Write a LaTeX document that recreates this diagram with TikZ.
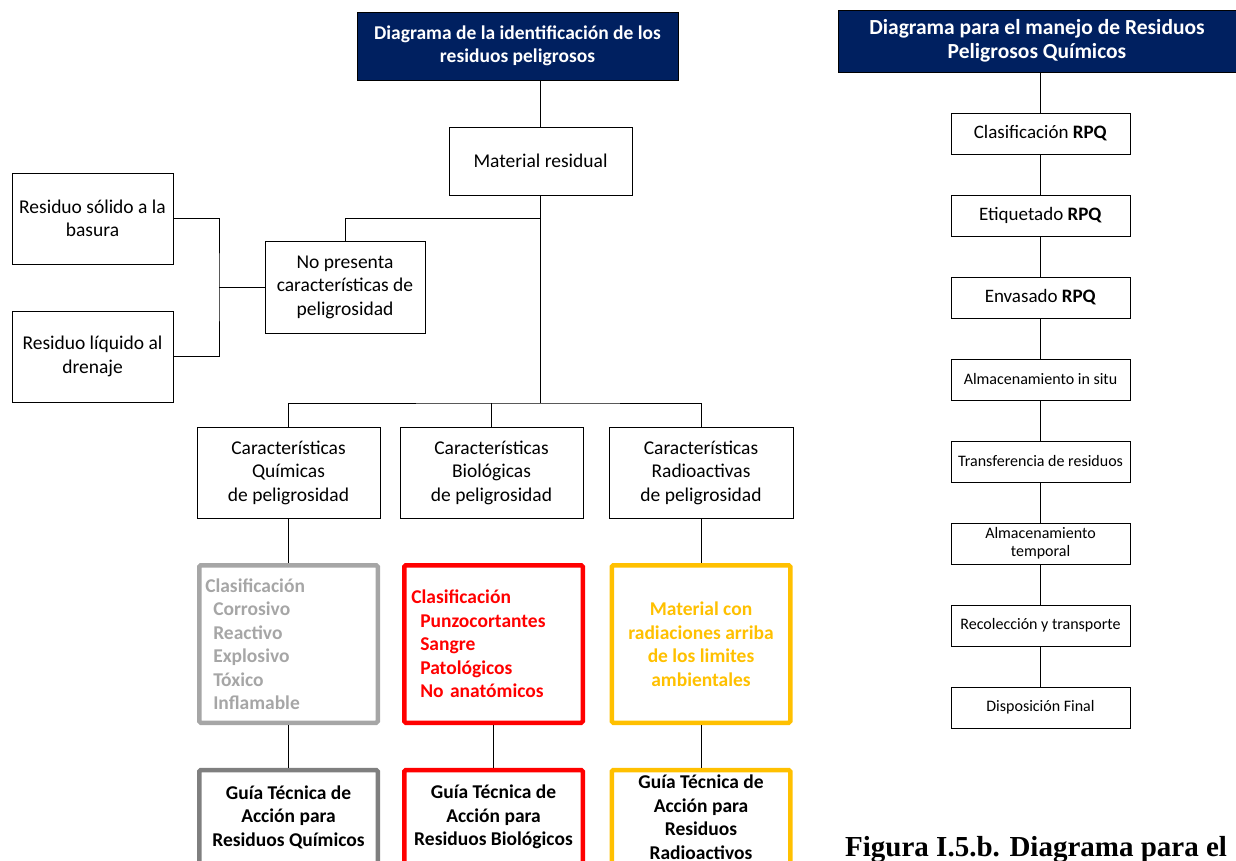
\documentclass[tikz,border=0pt]{standalone}
\usepackage{fontspec}
\setmainfont{Carlito}
\newfontfamily\piefont{Liberation Serif}
\usetikzlibrary{positioning}
\definecolor{azulosc}{HTML}{002060}
\definecolor{grisclaro}{HTML}{A6A6A6}
\definecolor{grisosc}{HTML}{7F7F7F}
\definecolor{amarillo}{HTML}{FFC000}
\tikzset{
	caja/.style={draw,line width=0.9pt,align=center,inner sep=3pt,font=\fontsize{19.5}{23.5}\selectfont},
	titulo/.style={draw=black,fill=azulosc,text=white,line width=0.9pt,align=center,font=\fontsize{19.5}{23.5}\selectfont\bfseries},
	clase/.style={draw,line width=4.5pt,rounded corners=1.5pt,minimum width=178.5,minimum height=157.5,font=\fontsize{19.5}{23.5}\selectfont\bfseries},
	guia/.style={draw,line width=4.5pt,rounded corners=1.5pt,minimum width=178.5,minimum height=94,align=center,font=\fontsize{19.5}{23.5}\selectfont\bfseries},
	paso/.style={draw,line width=0.9pt,minimum width=179,minimum height=41,align=center,inner sep=2pt},
	linea/.style={line width=1pt}
}
\begin{document}
\begin{tikzpicture}[x=1pt,y=-1pt]
		\useasboundingbox (0,0) rectangle (1236,861);
		% Diagrama de identificacion
		\node[titulo,minimum width=321,minimum height=68] (tit) at (517.5,46) {Diagrama de la identificación de los\\residuos peligrosos};
		\node[caja,minimum width=183,minimum height=68] (mat) at (540.5,161) {Material residual};
		\node[caja,minimum width=161,minimum height=91] (sol) at (92.5,218.5) {Residuo sólido a la\\basura};
		\node[caja,minimum width=161,minimum height=91] (liq) at (92.5,356.5) {Residuo líquido al\\drenaje};
		\node[caja,minimum width=160,minimum height=92] (npc) at (345,287) {No presenta\\características de\\peligrosidad};
		\coordinate (ramal) at (540.5,218);
		\coordinate (corchete) at (219,287);
		\coordinate (reparto) at (540.5,403);
		% Caracteristicas
		\node[caja,minimum width=183,minimum height=91] (quim) at (288.5,472.5) {Características\\Químicas\\de peligrosidad};
		\node[caja,minimum width=183,minimum height=91] (bio) at (491.5,472.5) {Características\\Biológicas\\de peligrosidad};
		\node[caja,minimum width=184,minimum height=91] (rad) at (701,472.5) {Características\\Radioactivas\\de peligrosidad};
		% Clasificacion
		\node[clase,draw=grisclaro,text=grisclaro,text width=166.5,inner xsep=6,align=left] (clq) at (288.5,644) {Clasificación\\\hspace*{8pt}Corrosivo\\\hspace*{8pt}Reactivo\\\hspace*{8pt}Explosivo\\\hspace*{8pt}Tóxico\\\hspace*{8pt}Inflamable};
		\node[clase,draw=red,text=red,text width=164.5,inner xsep=7,align=left] (clb) at (493.5,644) {Clasificación\\\hspace*{9pt}Punzocortantes\\\hspace*{9pt}Sangre\\\hspace*{9pt}Patológicos\\\hspace*{9pt}No anatómicos};
		\node[clase,draw=amarillo,text=amarillo,align=center] (clr) at (701,644) {Material con\\radiaciones arriba\\de los limites\\ambientales};
		% Guias
		\node[guia,draw=grisosc] (guq) at (288.5,817) {Guía Técnica de\\Acción para\\Residuos Químicos};
		\node[guia,draw=red] (gub) at (493.5,817) {Guía Técnica de\\Acción para\\Residuos Biológicos};
		\node[guia,draw=amarillo] (gur) at (701,817) {Guía Técnica de\\Acción para\\Residuos\\Radioactivos};
		% Conectores
		\draw[linea] (tit.south -| mat.north) -- (mat);
		\draw[linea] (mat) -- (reparto);
		\draw[linea] (npc.north) |- (ramal);
		\draw[linea] (sol.east) -| (corchete) |- (liq.east);
		\draw[linea] (corchete) -- (npc.west);
		\draw[linea] (quim.north) |- (reparto) -| (rad.north);
		\draw[linea] (bio.north) -- (bio.north |- reparto);
		\draw[linea] (quim) -- (clq);
		\draw[linea] (clq) -- (guq);
		\draw[linea] (bio.south) -- (bio.south -| clb.north);
		\draw[linea] (clb) -- (gub);
		\draw[linea] (rad) -- (clr);
		\draw[linea] (clr) -- (gur);
		% Diagrama de manejo
		\node[titulo,minimum width=398,minimum height=62,font=\fontsize{21.5}{23.5}\selectfont\bfseries] (tit2) at (1037,41) {Diagrama para el manejo de Residuos\\Peligrosos Químicos};
		\node[paso,font=\fontsize{19}{21}\selectfont] (p1) at (1040.5,133.5) {Clasificación \textbf{RPQ}};
		\node[paso,font=\fontsize{19}{21}\selectfont] (p2) at (1040.5,215.5) {Etiquetado \textbf{RPQ}};
		\node[paso,font=\fontsize{19}{21}\selectfont] (p3) at (1040.5,297.5) {Envasado \textbf{RPQ}};
		\node[paso,font=\fontsize{16}{18}\selectfont] (p4) at (1040.5,379.5) {Almacenamiento in situ};
		\node[paso,font=\fontsize{16}{18}\selectfont] (p5) at (1040.5,461.5) {Transferencia de residuos};
		\node[paso,font=\fontsize{16}{18}\selectfont] (p6) at (1040.5,543.5) {Almacenamiento\\temporal};
		\node[paso,font=\fontsize{16}{18}\selectfont] (p7) at (1040.5,625.5) {Recolección y transporte};
		\node[paso,font=\fontsize{16}{18}\selectfont] (p8) at (1040.5,707.5) {Disposición Final};
		\draw[linea] (tit2.south -| p1.north) -- (p1);
		\foreach \a/\b in {p1/p2,p2/p3,p3/p4,p4/p5,p5/p6,p6/p7,p7/p8}
			\draw[linea] (\a) -- (\b);
		\node[anchor=base west,inner sep=0,font=\fontsize{29}{32}\selectfont\piefont\bfseries] (pie) at (845,856) {Figura I.5.b. Diagrama para el};
\end{tikzpicture}
\end{document}
